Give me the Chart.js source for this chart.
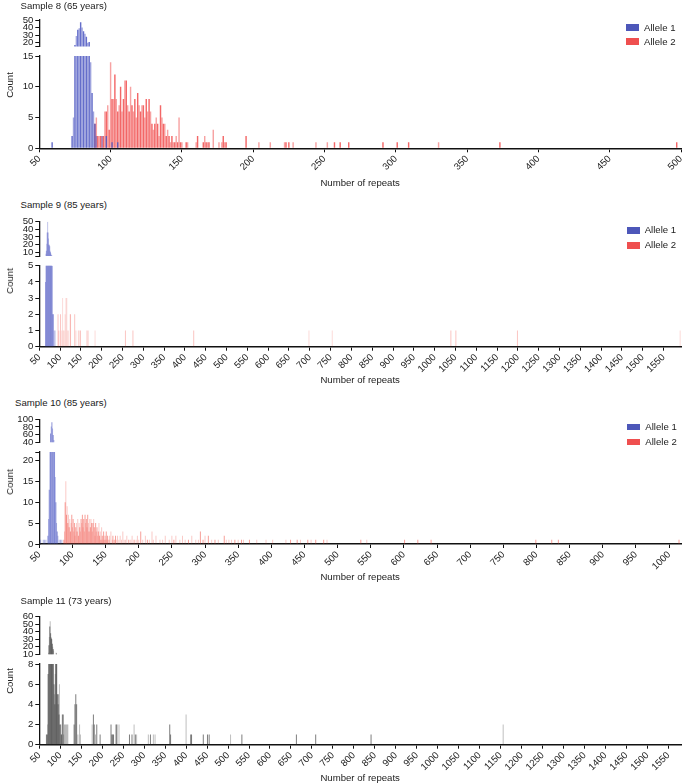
<!DOCTYPE html>
<html><head><meta charset="utf-8">
<script src="https://cdn.jsdelivr.net/npm/chart.js@4.4.1/dist/chart.umd.min.js"></script>
<style>
html,body{margin:0;padding:0;background:#fff;width:685px;height:784px;overflow:hidden;position:relative;
font-family:"Liberation Sans",Arial,Helvetica,sans-serif;color:#222}
canvas{position:absolute;left:0}
.t{position:absolute;font-size:9.6px;line-height:12px;white-space:nowrap}
.cnt{position:absolute;font-size:9.6px;line-height:12px;white-space:nowrap;transform:translate(-50%,-50%) rotate(-90deg)}
.box{position:absolute;width:13px;height:6.5px}
</style></head><body>
<script>
// ---------------- DATA ----------------
// Sample 8 (65 years)
const s8Allele1Repeats = [59,73,74,75,76,77,78,79,80,81,82,83,84,85,86,87,88,89,90,94,97,101,105];
const s8Allele1Counts  = [1,2,5,17,29,37,39,47,40,35,32,28,20,21,14,9,6,4,2,2,2,1,1];
const s8Allele2Repeats = [89,90,91,92,93,94,95,96,97,98,99,100,101,102,103,104,105,106,107,108,109,110,111,112,113,114,115,116,117,118,119,120,121,122,123,124,125,126,127,128,129,130,131,132,133,134,135,136,137,138,139,140,141,142,143,144,145,146,147,148,149,150,153,154,160,161,165,166,167,168,169,172,176,178,179,180,181,195,204,212,222,223,225,228,244,252,257,261,267,291,301,309,330,373,497];
const s8Allele2Counts  = [4,5,2,2,2,2,2,6,6,7,3,14,8,8,12,8,6,7,10,6,8,11,11,7,6,10,7,6,8,5,9,7,6,7,7,5,8,6,8,6,4,3,4,5,4,2,7,5,4,4,2,3,2,1,2,1,1,2,1,5,1,1,1,1,1,2,1,2,1,1,1,3,1,1,2,1,1,2,1,1,1,1,1,1,1,1,1,1,1,1,1,1,1,1,1];
const s8XTicks = [50,100,150,200,250,300,350,400,450,500];
const s8XRange = [50,500];
const s8UpperRange = [15,50], s8UpperTicks = [20,30,40,50];
const s8LowerRange = [0,15],  s8LowerTicks = [0,5,10,15];

// Sample 9 (85 years)
const s9Allele1Repeats = [65,66,67,68,69,70,71,72,73,74,75,76,77,78,79,80,81,82,83,84,86,88];
const s9Allele1Counts  = [4,8,12,21,36,50,36,28,20,20,18,12,10,8,6,6,5,2,2,2,1,1];
const s9Allele2Repeats = [95,97,101,104,106,109,112,114,116,119,124,125,135,138,144,146,149,164,167,184,257,275,421,698,754,1039,1051,1199,1590];
const s9Allele2Counts  = [2,1,2,1,3,1,2,3,3,1,2,2,2,1,1,1,1,1,1,1,1,1,1,1,1,1,1,1,1];
const s9XTicks = [50,100,150,200,250,300,350,400,450,500,550,600,650,700,750,800,850,900,950,1000,1050,1100,1150,1200,1250,1300,1350,1400,1450,1500,1550];
const s9XRange = [50,1592];
const s9UpperRange = [5,50], s9UpperTicks = [10,20,30,40,50];
const s9LowerRange = [0,5],  s9LowerTicks = [0,1,2,3,4,5];

// Sample 10 (85 years)
const s10Allele1Repeats = [52,56,58,60,63,64,65,66,67,68,69,70,71,72,73,74,75,76,77,78,80,82,84];
const s10Allele1Counts  = [1,1,1,1,2,6,13,30,63,81,92,76,59,46,30,16,10,5,3,2,1,1,1];
const s10Allele2Repeats = [87,88,89,90,91,92,93,94,95,96,97,98,99,100,101,102,103,104,105,106,107,108,109,110,111,112,113,114,115,116,117,118,119,120,121,122,123,124,125,126,127,128,129,130,131,132,133,134,135,136,137,138,139,140,141,142,143,144,145,146,147,148,149,150,151,152,153,155,156,158,160,161,163,165,166,168,170,172,174,176,178,180,182,185,188,190,193,196,198,200,203,206,210,213,216,220,222,226,232,236,240,246,250,253,256,262,266,270,275,280,286,290,293,297,300,305,310,315,320,329,332,336,340,345,350,355,358,367,378,392,402,422,429,439,444,455,460,467,479,484,535,544,601,621,641,799,823,833,1015];
const s10Allele2Counts  = [1,3,10,15,7,9,5,7,4,6,3,5,7,4,6,3,5,2,4,5,3,6,2,5,4,3,6,5,7,4,6,3,7,5,6,4,7,5,3,6,4,6,5,3,5,6,4,2,5,3,4,2,3,5,2,3,1,4,2,1,3,2,1,2,3,1,2,1,2,3,1,2,1,2,1,2,1,2,1,3,1,1,2,1,1,2,1,1,2,1,3,1,2,1,1,3,1,2,1,1,2,1,2,1,2,1,2,1,1,2,1,1,3,1,2,2,1,1,1,2,1,1,1,1,1,1,1,1,1,1,1,1,1,1,1,1,1,1,1,1,1,1,1,1,1,1,1,1,1];
const s10XTicks = [50,100,150,200,250,300,350,400,450,500,550,600,650,700,750,800,850,900,950,1000];
const s10XRange = [50,1018];
const s10UpperRange = [40,100], s10UpperTicks = [40,60,80,100];
const s10LowerRange = [0,22],   s10LowerTicks = [0,5,10,15,20];

// Sample 11 (73 years)
const s11Repeats = [67,69,70,71,72,73,74,75,76,77,78,79,80,81,82,83,84,85,86,87,88,89,90,91,92,93,94,95,96,97,98,99,101,102,103,105,107,108,110,112,114,116,118,133,135,137,139,142,146,148,176,179,181,184,187,195,221,223,225,227,233,235,240,265,271,276,279,282,310,315,322,326,361,363,400,411,413,441,451,455,506,533,663,709,841,1156];
const s11Counts  = [1,1,2,7,12,22,33,47,54,38,33,31,30,24,20,17,15,6,5,4,7,9,12,11,9,5,4,5,4,3,6,2,2,1,1,3,3,1,2,2,2,2,2,2,4,5,4,1,2,1,2,3,2,1,2,1,2,1,1,1,2,2,2,1,1,2,1,1,1,1,1,1,2,1,3,1,1,1,1,1,1,1,1,1,1,2];
const s11XTicks = [50,100,150,200,250,300,350,400,450,500,550,600,650,700,750,800,850,900,950,1000,1050,1100,1150,1200,1250,1300,1350,1400,1450,1500,1550];
const s11XRange = [50,1580];
const s11UpperRange = [10,60], s11UpperTicks = [10,20,30,40,50,60];
const s11LowerRange = [0,8],   s11LowerTicks = [0,2,4,6,8];

const seriesLabels = ['Allele 1','Allele 2'];

// ---------------- STYLE / LAYOUT ----------------
const FONT = {family:'"Liberation Sans", Arial, Helvetica, sans-serif', size:9.6, lineHeight:1.2};
const TEXT = '#222';
const AXIS = '#111';
const Y_W = 39, PAD_L = 0.3, PAD_R = 4, M = 10;
Chart.defaults.font.family = FONT.family;

const panels = [
  {title:'Sample 8 (65 years)', titleX:20.5, titleY:5.5, countY:84.7,
   legend:[{y:27.5,c:'#4d57b9'},{y:41.7,c:'#ef4f4f'}], legendX:626,
   upper:[20,46.5], lower:[56,148.3], xTitleY:183,
   xRange:s8XRange, xTicks:s8XTicks, upR:s8UpperRange, upT:s8UpperTicks, loR:s8LowerRange, loT:s8LowerTicks,
   thickness:undefined,
   series:[{label:seriesLabels[0], repeats:s8Allele1Repeats, counts:s8Allele1Counts, colors:['rgba(80,90,195,0.88)','rgba(80,90,195,0.55)']},
           {label:seriesLabels[1], repeats:s8Allele2Repeats, counts:s8Allele2Counts, colors:['rgba(240,70,70,0.82)','rgba(240,70,70,0.5)']}]},
  {title:'Sample 9 (85 years)', titleX:20.5, titleY:205, countY:281,
   legend:[{y:230.3,c:'#4d57b9'},{y:245.3,c:'#ef4f4f'}], legendX:626.7,
   upper:[221.7,256.1], lower:[265.7,346.7], xTitleY:380.7,
   xRange:s9XRange, xTicks:s9XTicks, upR:s9UpperRange, upT:s9UpperTicks, loR:s9LowerRange, loT:s9LowerTicks,
   thickness:1,
   series:[{label:seriesLabels[0], repeats:s9Allele1Repeats, counts:s9Allele1Counts, colors:['rgba(80,90,195,0.5)','rgba(80,90,195,0.35)']},
           {label:seriesLabels[1], repeats:s9Allele2Repeats, counts:s9Allele2Counts, colors:['rgba(240,90,80,0.35)','rgba(240,90,80,0.22)']}]},
  {title:'Sample 10 (85 years)', titleX:15, titleY:403.3, countY:481.7,
   legend:[{y:427.2,c:'#4d57b9'},{y:442.2,c:'#ef4f4f'}], legendX:627.3,
   upper:[419.3,442.3], lower:[452,544], xTitleY:577.7,
   xRange:s10XRange, xTicks:s10XTicks, upR:s10UpperRange, upT:s10UpperTicks, loR:s10LowerRange, loT:s10LowerTicks,
   thickness:1,
   series:[{label:seriesLabels[0], repeats:s10Allele1Repeats, counts:s10Allele1Counts, colors:['rgba(80,90,195,0.65)','rgba(80,90,195,0.45)']},
           {label:seriesLabels[1], repeats:s10Allele2Repeats, counts:s10Allele2Counts, colors:['rgba(240,80,70,0.55)','rgba(240,80,70,0.3)']}]},
  {title:'Sample 11 (73 years)', titleX:20.5, titleY:600.7, countY:681.3,
   legend:null,
   upper:[616.7,654.3], lower:[664,744.7], xTitleY:778.3,
   xRange:s11XRange, xTicks:s11XTicks, upR:s11UpperRange, upT:s11UpperTicks, loR:s11LowerRange, loT:s11LowerTicks,
   thickness:1,
   series:[{label:'Sample 11', repeats:s11Repeats, counts:s11Counts, colors:['rgba(70,70,70,0.7)','rgba(70,70,70,0.35)']}]}
];

function datasets(p){
  return p.series.map(s => ({
    label:s.label,
    data:s.repeats.map((r,i)=>({x:r, y:s.counts[i]})),
    backgroundColor:ctx => (ctx.raw && ctx.raw.x % 2) ? s.colors[0] : s.colors[1],
    borderWidth:0, grouped:false, clip:0, inflateAmount:0,
    barPercentage:1, categoryPercentage:1, barThickness:p.thickness
  }));
}

function yScale(range, labeled, breakVal){
  const vals = Array.from(new Set([breakVal, ...labeled])).sort((a,b)=>a-b);
  return {
    type:'linear', position:'left', min:range[0], max:range[1],
    afterBuildTicks:s => { s.ticks = vals.map(v => ({value:v})); },
    afterFit:s => { s.width = Y_W; },
    ticks:{autoSkip:false, padding:2, font:FONT, color:TEXT, callback:v => labeled.includes(v) ? String(v) : ''},
    grid:{display:true, drawOnChartArea:false, drawTicks:true, tickLength:4, color:AXIS, lineWidth:1},
    border:{display:true, color:AXIS, width:1.3}
  };
}

function xScale(p, show, h){
  return {
    type:'linear', min:p.xRange[0], max:p.xRange[1], offset:false, display:show,
    afterBuildTicks:s => { s.ticks = p.xTicks.map(v => ({value:v})); },
    afterFit:s => { if (show) s.height = h; s.paddingLeft = 0; s.paddingRight = 0; },
    ticks:{autoSkip:false, minRotation:45, maxRotation:45, padding:1, font:FONT, color:TEXT, callback:v => String(v)},
    grid:{display:true, drawOnChartArea:false, drawTicks:true, tickLength:4, color:AXIS, lineWidth:1, offset:false},
    border:{display:true, color:AXIS, width:1.6},
    title:{display:true, text:'Number of repeats', font:FONT, color:TEXT, padding:0}
  };
}

function addCanvas(top, height){
  const c = document.createElement('canvas');
  c.width = 685; c.height = height;
  c.style.top = top + 'px'; c.style.width = '685px'; c.style.height = height + 'px';
  document.body.appendChild(c);
  return c;
}

function addText(cls, text, left, top){
  const d = document.createElement('div');
  d.className = cls; d.textContent = text;
  d.style.left = left + 'px'; d.style.top = top + 'px';
  document.body.appendChild(d);
  return d;
}

panels.forEach(p => {
  // upper (broken-axis top part)
  const uTop = Math.floor(p.upper[0] - M), uBot = Math.ceil(p.upper[1] + M);
  const cu = addCanvas(uTop, uBot - uTop);
  new Chart(cu, {type:'bar', data:{datasets:datasets(p)}, options:{
    responsive:false, animation:false, devicePixelRatio:1,
    layout:{padding:{left:PAD_L, right:PAD_R, top:p.upper[0]-uTop, bottom:uBot-p.upper[1]}},
    plugins:{legend:{display:false}, tooltip:{enabled:false}},
    scales:{x:xScale(p,false,0), y:yScale(p.upR, p.upT, p.upR[0])}
  }});
  // lower part with x axis
  const half = FONT.size*FONT.lineHeight/2;
  const lTop = Math.floor(p.lower[0] - M), lBot = Math.ceil(p.xTitleY + half + 1);
  const xH = p.xTitleY + half - p.lower[1];
  const cl = addCanvas(lTop, lBot - lTop);
  new Chart(cl, {type:'bar', data:{datasets:datasets(p)}, options:{
    responsive:false, animation:false, devicePixelRatio:1,
    layout:{padding:{left:PAD_L, right:PAD_R, top:p.lower[0]-lTop, bottom:lBot-(p.xTitleY+half)}},
    plugins:{legend:{display:false}, tooltip:{enabled:false}},
    scales:{x:xScale(p,true,xH), y:yScale(p.loR, p.loT, p.loR[1])}
  }});
  // texts
  addText('t', p.title, p.titleX, p.titleY - 6);
  addText('cnt', 'Count', 9.7, p.countY);
  if (p.legend){
    p.legend.forEach((l,i) => {
      const b = document.createElement('div'); b.className = 'box';
      b.style.left = p.legendX + 'px'; b.style.top = (l.y - 3.25) + 'px'; b.style.background = l.c;
      document.body.appendChild(b);
      addText('t', seriesLabels[i], p.legendX + 18, l.y - 6);
    });
  }
});
</script>
</body></html>
